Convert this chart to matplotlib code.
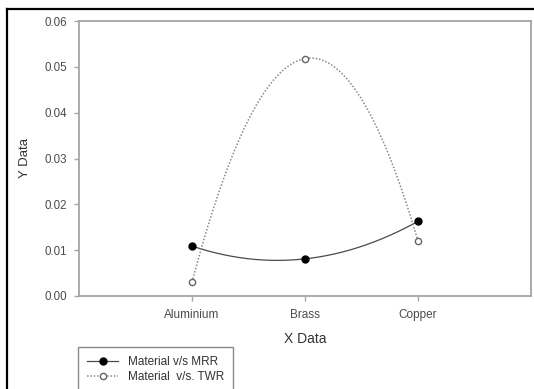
import numpy as np
import matplotlib
matplotlib.use('Agg')
import matplotlib.pyplot as plt
from matplotlib.lines import Line2D

plt.rcParams['font.family'] = ['Liberation Sans', 'DejaVu Sans']

materials = ['Aluminium', 'Brass', 'Copper']
mrr = [0.0109, 0.0081, 0.0163]
twr = [0.0030, 0.0518, 0.0120]
y_ticks = [0.00, 0.01, 0.02, 0.03, 0.04, 0.05, 0.06]

W, H = 534, 389
fig = plt.figure(figsize=(W / 100, H / 100), dpi=100)
fig.patch.set_facecolor('white')

# axes box in pixel coords of the reference
left, right, top, bottom = 79, 531, 21, 296
ax = fig.add_axes([left / W, 1 - bottom / H, (right - left) / W, (bottom - top) / H])

x = np.arange(1, len(materials) + 1)
xs = np.linspace(x[0], x[-1], 200)


def smooth(vals):
    # spline-like curve through the three points
    c = np.polyfit(x, vals, 2)
    return np.polyval(c, xs)


ax.plot(xs, smooth(mrr), color='#4a4a4a', lw=0.9, zorder=2)
ax.plot(x, mrr, 'o', ms=5, color='black', zorder=3)
ax.plot(xs, smooth(twr), color='#8a8a8a', lw=1.1, ls=(0, (1, 1.2)), zorder=2)
ax.plot(x, twr, 'o', ms=4.5, mfc='white', mec='#666666', mew=1.0, zorder=3)

ax.set_xlim(0, 4)
ax.set_ylim(0, 0.06)
ax.set_xticks(x)
ax.set_xticklabels(materials)
ax.set_yticks(y_ticks)
ax.set_yticklabels(['%.2f' % v for v in y_ticks])

for s in ax.spines.values():
    s.set_color('#a5a5a5')
    s.set_linewidth(1.3)
ax.tick_params(axis='both', direction='out', length=3.5, width=1, color='#a5a5a5',
               labelcolor='#4a4a4a')
ax.tick_params(axis='x', labelsize=8.5, pad=6)
ax.tick_params(axis='y', labelsize=8.3, pad=5)

ax.set_xlabel('X Data', fontsize=10, color='#333333', labelpad=8)
ax.set_ylabel('Y Data', fontsize=9.5, color='#333333', labelpad=10)

handles = [
    Line2D([], [], color='#4a4a4a', lw=0.9, marker='o', ms=5, mfc='black', mec='black'),
    Line2D([], [], color='#8a8a8a', lw=1.1, ls=(0, (1, 1.2)), marker='o', ms=4.5,
           mfc='white', mec='#666666'),
]
leg = fig.legend(handles, ['Material v/s MRR', 'Material  v/s. TWR'],
                 loc='upper left', bbox_to_anchor=(78 / W, 1 - 347 / H),
                 borderaxespad=0, fontsize=8.5, handlelength=2.6, handletextpad=0.8,
                 labelspacing=0.22, borderpad=0.8, fancybox=False, framealpha=1)
leg.get_frame().set_edgecolor('#888888')
leg.get_frame().set_linewidth(1.0)
for t in leg.get_texts():
    t.set_color('#333333')

# outer black frame of the scanned figure
fig.add_artist(Line2D([7 / W, 7 / W], [0, 1 - 9 / H], color='black', lw=1.6,
                      transform=fig.transFigure))
fig.add_artist(Line2D([7 / W, 1], [1 - 9 / H, 1 - 9 / H], color='black', lw=1.6,
                      transform=fig.transFigure))

fig.savefig('out.png', dpi=100)
